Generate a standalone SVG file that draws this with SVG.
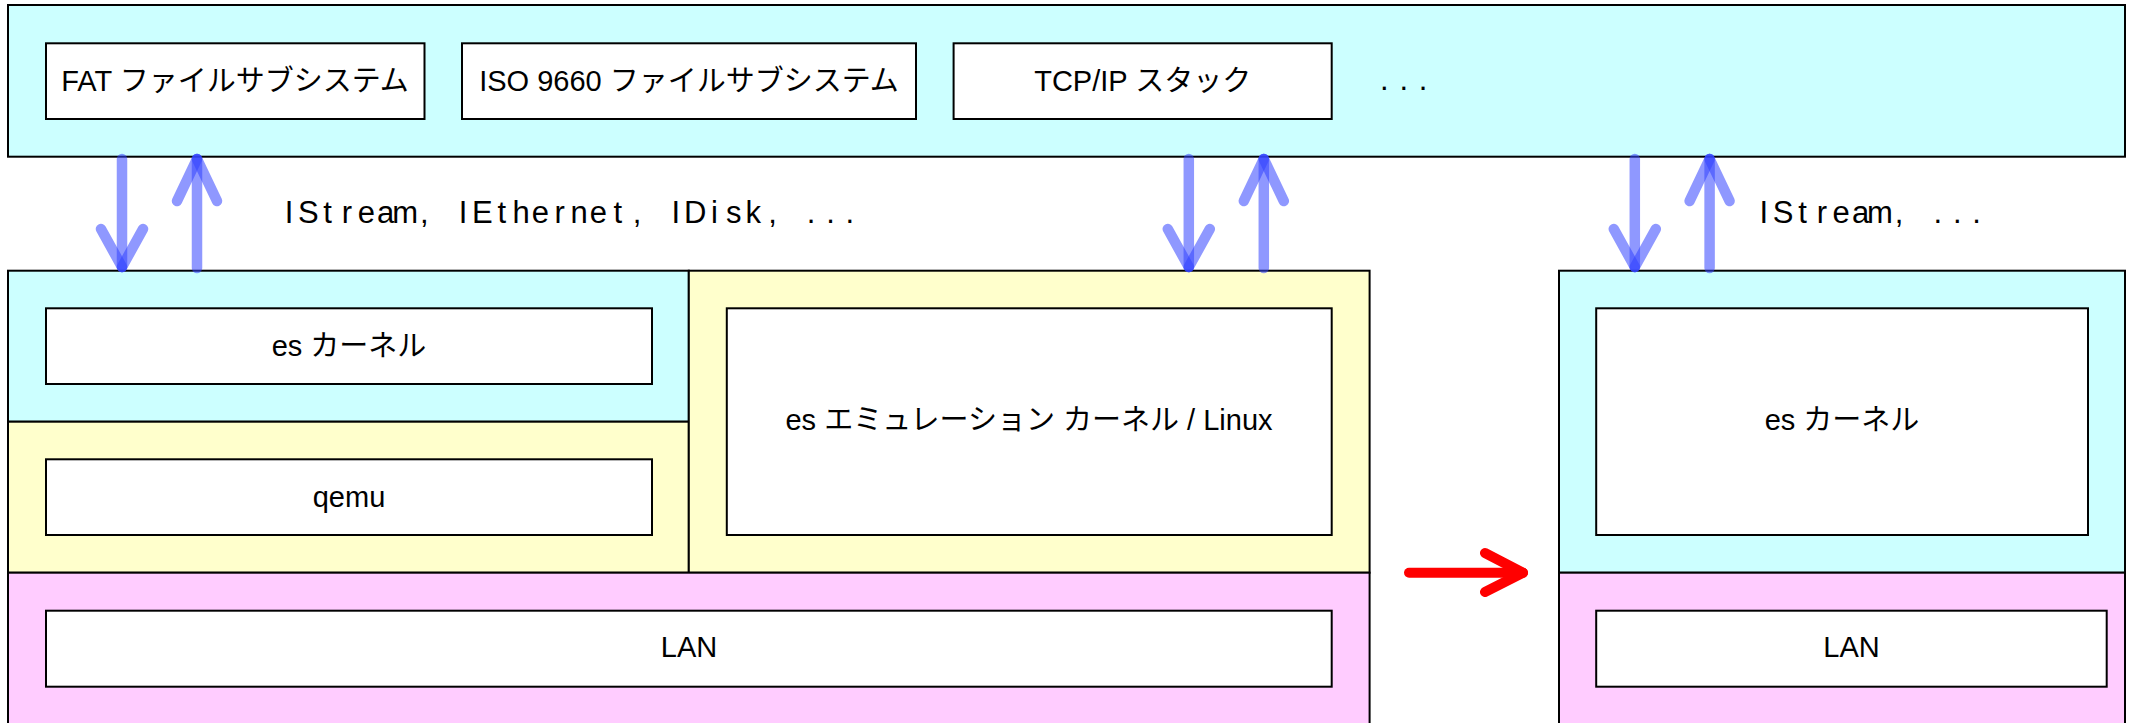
<svg xmlns="http://www.w3.org/2000/svg" width="2129" height="723" viewBox="0 0 2129 723">
<style>
.box{stroke:#000;stroke-width:2}
.cy{fill:#CCFFFF}.ye{fill:#FFFFCC}.pk{fill:#FFCCFF}.wh{fill:#FFFFFF}
.t{font-family:"Liberation Sans","Noto Sans CJK JP",sans-serif;font-size:29px;fill:#000;text-anchor:middle}
.m{font-family:"Liberation Sans","Noto Sans CJK JP",sans-serif;font-size:31px;fill:#000;text-anchor:middle}
.bl{stroke:#3344ff;stroke-opacity:0.55;stroke-width:10.5;stroke-linecap:round;fill:none}
.rd{stroke:#ff0000;stroke-width:10;stroke-linecap:round;stroke-linejoin:round;fill:none}
</style>
<g id="upper-layer">
<rect class="box cy" x="8" y="5" width="2117" height="151.7"/>
<text class="m" x="1384.4 1403.74 1423.08" y="90">...</text>
</g>
<g id="fat">
<rect class="box wh" x="46" y="43.3" width="378.5" height="75.7"/>
<text class="t" x="235" y="90.7">FAT ファイルサブシステム</text>
</g>
<g id="iso9660">
<rect class="box wh" x="462" y="43.3" width="454" height="75.7"/>
<text class="t" x="689" y="90.7">ISO 9660 ファイルサブシステム</text>
</g>
<g id="tcpip">
<rect class="box wh" x="953.6" y="43.3" width="378.1" height="75.7"/>
<text class="t" x="1142.7" y="90.7">TCP/IP スタック</text>
</g>
<g id="es-kernel-left">
<rect class="box cy" x="8" y="270.7" width="680.8" height="151"/>
<rect class="box wh" x="46" y="308.3" width="606" height="75.7"/>
<text class="t" x="349" y="356">es カーネル</text>
</g>
<g id="qemu">
<rect class="box ye" x="8" y="421.7" width="680.8" height="151"/>
<rect class="box wh" x="46" y="459.3" width="606" height="75.7"/>
<text class="t" x="349" y="506.7">qemu</text>
</g>
<g id="emulation">
<rect class="box ye" x="688.8" y="270.7" width="680.8" height="302"/>
<rect class="box wh" x="726.8" y="308.3" width="604.9" height="226.7"/>
<text class="t" x="1029" y="430">es エミュレーション カーネル / Linux</text>
</g>
<g id="lan-left">
<rect class="box pk" x="8" y="572.7" width="1361.6" height="160"/>
<rect class="box wh" x="46" y="610.7" width="1285.7" height="76"/>
<text class="t" x="689" y="657.3">LAN</text>
</g>
<g id="es-kernel-right">
<rect class="box cy" x="1559" y="270.7" width="566" height="302"/>
<rect class="box wh" x="1596.2" y="308.3" width="491.8" height="226.7"/>
<text class="t" x="1842" y="430">es カーネル</text>
</g>
<g id="lan-right">
<rect class="box pk" x="1559" y="572.7" width="566" height="160"/>
<rect class="box wh" x="1596.2" y="610.7" width="510.5" height="76"/>
<text class="t" x="1851.5" y="657.3">LAN</text>
</g>
<g id="connectors">
<g id="arrows-left">
<line class="bl" x1="122" y1="159" x2="122" y2="267"/>
<line class="bl" x1="101" y1="229" x2="122" y2="267"/>
<line class="bl" x1="143" y1="229" x2="122" y2="267"/>
<line class="bl" x1="197" y1="268" x2="197" y2="159"/>
<line class="bl" x1="177" y1="201" x2="197" y2="159"/>
<line class="bl" x1="217" y1="201" x2="197" y2="159"/>
</g>
<g id="arrows-middle">
<line class="bl" x1="1188.8" y1="159" x2="1188.8" y2="267"/>
<line class="bl" x1="1167.8" y1="229" x2="1188.8" y2="267"/>
<line class="bl" x1="1209.8" y1="229" x2="1188.8" y2="267"/>
<line class="bl" x1="1263.8" y1="268" x2="1263.8" y2="159"/>
<line class="bl" x1="1243.8" y1="201" x2="1263.8" y2="159"/>
<line class="bl" x1="1283.8" y1="201" x2="1263.8" y2="159"/>
</g>
<g id="arrows-right">
<line class="bl" x1="1634.8" y1="159" x2="1634.8" y2="267"/>
<line class="bl" x1="1613.8" y1="229" x2="1634.8" y2="267"/>
<line class="bl" x1="1655.8" y1="229" x2="1634.8" y2="267"/>
<line class="bl" x1="1709.6" y1="268" x2="1709.6" y2="159"/>
<line class="bl" x1="1689.6" y1="201" x2="1709.6" y2="159"/>
<line class="bl" x1="1729.6" y1="201" x2="1709.6" y2="159"/>
</g>
<text class="m" x="289 308.34 327.68 347.02 366.36 385.7 405.04 424.38 443.72 463.06 482.4 501.74 521.08 540.42 559.76 579.1 598.44 617.78 637.12 656.46 675.8 695.14 714.48 733.82 753.16 772.5 791.84 811.18 830.52 849.86" y="222.7">IStream, IEthernet, IDisk, ...</text>
<text class="m" x="1763.8 1783.14 1802.48 1821.82 1841.16 1860.5 1879.84 1899.18 1918.52 1937.86 1957.2 1976.54" y="222.7">IStream, ...</text>
<g id="transition-arrow">
<line class="rd" x1="1409" y1="572.7" x2="1523" y2="572.7"/>
<polyline class="rd" points="1485,553 1523,572.7 1485,592"/>
</g>
</g>
</svg>
